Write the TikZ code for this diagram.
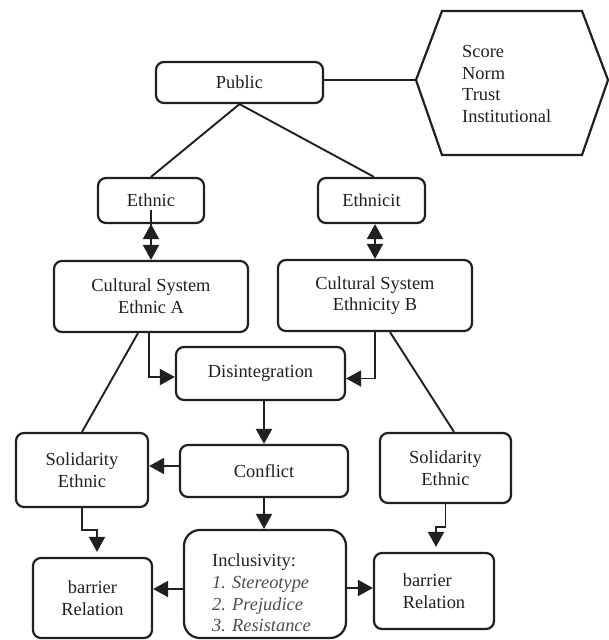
\documentclass[tikz,border=0pt]{standalone}
\usepackage{fontspec}
\setmainfont{Liberation Serif}
\usetikzlibrary{arrows.meta,calc}
\definecolor{ink}{RGB}{35,31,32}
\begin{document}
\begin{tikzpicture}[x=1pt,y=-1pt,
  box/.style={draw=ink, line width=2.2pt, rounded corners=8pt, inner sep=0pt, align=center, text=ink},
  con/.style={draw=ink, line width=1.9pt},
  arr/.style={con, -{Triangle[length=15pt,width=16pt]}},
  dbl/.style={con, {Triangle[length=15pt,width=16pt]}-{Triangle[length=15pt,width=16pt]}},
  lbl/.style={inner sep=0pt, align=left, text=ink},
  every node/.append style={font=\fontsize{18.4}{21.8}\selectfont}]
\useasboundingbox (0,0) rectangle (608,640);
\fill[white] (0,0) rectangle (608,640);

% top
\node[box, minimum width=167pt, minimum height=41pt] (pub) at (239.5,82.5) {Public};
\coordinate (hexL) at (416,80);
\draw[ink, line width=2.2pt, line join=miter] (hexL) -- (442,11) -- (582,11) -- (608,80) -- (582,155) -- (442,155) -- cycle;
\node[lbl, anchor=west] (hext) at (462,84) {Score\\Norm\\Trust\\Institutional};

% second row
\node[box, minimum width=106pt, minimum height=45pt] (eth) at (151,200.5) {Ethnic};
\node[box, minimum width=107pt, minimum height=45pt] (etht) at (371.5,200.5) {Ethnicit};

% cultural systems
\node[box, minimum width=194pt, minimum height=71pt] (csa) at (151,296.5) {Cultural System\\Ethnic A};
\node[box, minimum width=194pt, minimum height=71pt] (csb) at (375,295.5) {Cultural System\\Ethnicity B};

% middle
\node[box, minimum width=169pt, minimum height=53pt] (dis) at (260.5,373.5) {Disintegration};
\node[box, minimum width=168pt, minimum height=52pt] (conf) at (264,471) {Conflict};
\node[box, minimum width=132pt, minimum height=74pt] (solL) at (82,470) {Solidarity\\Ethnic};
\node[box, minimum width=131pt, minimum height=70pt] (solR) at (445.5,468) {Solidarity\\Ethnic};

% bottom
\node[box, rounded corners=16pt, minimum width=162pt, minimum height=108pt] (inc) at (265,584) {};
\node[lbl, anchor=west] (inct) at (212,593) {Inclusivity:\\{\color{ink!80}\itshape 1. Stereotype}\\{\color{ink!80}\itshape 2. Prejudice}\\{\color{ink!80}\itshape 3. Resistance}};
\node[box, minimum width=119pt, minimum height=80pt] (barL) at (92.5,598) {barrier\\Relation};
\node[box, align=left, minimum width=120pt, minimum height=76pt] (barR) at (434,591) {barrier\\Relation};

% connectors
\draw[con] (pub.south) -- (eth.north);
\draw[con] (pub.south) -- ($(etht.north)+(2.5,0)$);
\draw[con] (pub.east |- hexL) -- (hexL);

\draw[dbl] (eth.south) -- (csa.north |- eth.south) -- (csa.north);
\draw[dbl] (csb.north |- etht.south) -- (csb.north);

\draw[con] ($(csa.south)+(-13,0)$) -- (solL.north);
\draw[con] ($(csb.south)+(15,0)$) -- ($(solR.north)+(8.5,0)$);

\coordinate (dl) at ($(dis.west)+(0,3.5)$);
\coordinate (dr) at ($(dis.east)+(0,5)$);
\draw[arr] ($(csa.south)+(-2,0)$) |- (dl);
\draw[arr] (csb.south) |- (dr);

\draw[arr] (conf.north |- dis.south) -- (conf.north);

\coordinate (cl) at ($(conf.west)+(0,-5)$);
\draw[arr] (cl) -- (cl -| solL.east);
\draw[arr] (conf.south) -- (conf.south |- inc.north);

\draw[arr] (solL.south) -- ++(0,22) -| ($(barL.north)+(4.5,-5)$);
\draw[arr] (solR.south) -- ++(0,23) -| ($(barR.north)+(2,-5)$);

\coordinate (il) at ($(inc.west)+(0,5)$);
\coordinate (ir) at ($(inc.east)+(0,4)$);
\draw[arr] (il) -- (il -| barL.east);
\draw[arr] (ir) -- (ir -| barR.west);
\end{tikzpicture}
\end{document}
